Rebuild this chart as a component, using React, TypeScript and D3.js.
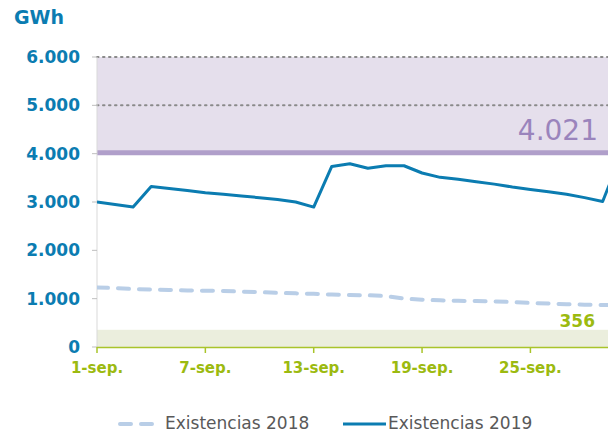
import React from "react";
import * as d3 from "d3";

const days = d3.range(1, 31);
const xTickDays = [1, 7, 13, 19, 25];
const xTickLabels = ["1-sep.", "7-sep.", "13-sep.", "19-sep.", "25-sep."];
const yTicks = [0, 1000, 2000, 3000, 4000, 5000, 6000];
const gridValues = [5000, 6000];
const s2018 = [1230, 1220, 1200, 1190, 1180, 1170, 1165, 1160, 1145, 1135, 1120, 1110, 1100, 1085, 1075, 1070, 1055, 1000, 980, 965, 955, 950, 945, 930, 910, 900, 885, 875, 870, 865];
const s2019 = [3000, 2950, 2895, 3320, 3280, 3240, 3190, 3160, 3125, 3090, 3050, 3000, 2895, 3735, 3790, 3700, 3750, 3750, 3600, 3510, 3470, 3420, 3370, 3310, 3260, 3210, 3160, 3090, 3010, 3950];
const upperBand = [4021, 6000];
const lowerBand = [0, 356];
const legendLabels = ["Existencias 2018", "Existencias 2019"];

const fmt = (v: number) => d3.format(",")(v).replace(/,/g, ".");

export default function App() {
  const W = 608, H = 433;
  const x = d3.scaleLinear().domain([1, 30]).range([97, 620.7]);
  const y = d3.scaleLinear().domain([0, 6000]).range([347, 57]);
  const line = d3.line<number>().x((_, i) => x(days[i])).y((d) => y(d));
  const blue = "#0b7cb1";
  const green = "#9cba10";
  const font = "DejaVu Sans, Verdana, sans-serif";
  return (
    <svg width={W} height={H} style={{ position: "absolute", left: 0, top: 0 }} fontFamily={font}>
      <defs>
        <clipPath id="plot">
          <rect x={97} y={0} width={W - 97} height={H} />
        </clipPath>
      </defs>
      <text x={14} y={24} fontSize={19} fontWeight="bold" fill={blue}>GWh</text>
      {/* bands */}
      <rect x={97} y={y(upperBand[1])} width={W - 97} height={y(upperBand[0]) - y(upperBand[1])} fill="#e5dfec" />
      <rect x={97} y={y(lowerBand[1])} width={W - 97} height={y(lowerBand[0]) - y(lowerBand[1])} fill="#ebeedd" />
      {gridValues.map((v) => (
        <line key={v} x1={97} x2={W} y1={y(v)} y2={y(v)} stroke="#8a8a8a" strokeWidth={2} strokeDasharray="1.5,4.5" strokeLinecap="round" />
      ))}
      <line x1={97} x2={W} y1={y(upperBand[0])} y2={y(upperBand[0])} stroke="#b09fca" strokeWidth={5} />
      <text x={598} y={140} fontSize={28} fill="#9a84bc" textAnchor="end">{fmt(upperBand[0])}</text>
      <text x={595} y={327} fontSize={17} fontWeight="bold" fill={green} textAnchor="end">{lowerBand[1]}</text>
      {/* y axis */}
      <line x1={97} x2={97} y1={57} y2={347} stroke="#d9d9d9" strokeWidth={1} />
      {yTicks.map((v) => (
        <g key={v}>
          <line x1={92} x2={97} y1={y(v)} y2={y(v)} stroke="#bfbfbf" />
          <text x={80} y={y(v) + 6} fontSize={17} fontWeight="bold" fill={blue} textAnchor="end">{fmt(v)}</text>
        </g>
      ))}
      {/* x axis */}
      <line x1={97} x2={W} y1={347.5} y2={347.5} stroke="#a9c42a" strokeWidth={1.5} />
      {xTickDays.map((d, i) => (
        <g key={d}>
          <line x1={x(d)} x2={x(d)} y1={347} y2={353} stroke="#a9c42a" strokeWidth={1.5} />
          <text x={x(d)} y={373} fontSize={15} fontWeight="bold" fill={green} textAnchor="middle">{xTickLabels[i]}</text>
        </g>
      ))}
      <g clipPath="url(#plot)">
        <path d={line(s2018) || ""} fill="none" stroke="#b9cee7" strokeWidth={4} strokeDasharray="11,10" strokeLinecap="round" />
        <path d={line(s2019) || ""} fill="none" stroke={blue} strokeWidth={3} strokeLinejoin="round" />
      </g>
      {/* legend */}
      <line x1={120} x2={152} y1={424} y2={424} stroke="#b9cee7" strokeWidth={4} strokeDasharray="11,10" strokeLinecap="round" />
      <text x={165} y={429} fontSize={17} fill="#595959">{legendLabels[0]}</text>
      <line x1={343} x2={386} y1={424} y2={424} stroke={blue} strokeWidth={3} />
      <text x={388} y={429} fontSize={17} fill="#595959">{legendLabels[1]}</text>
    </svg>
  );
}
